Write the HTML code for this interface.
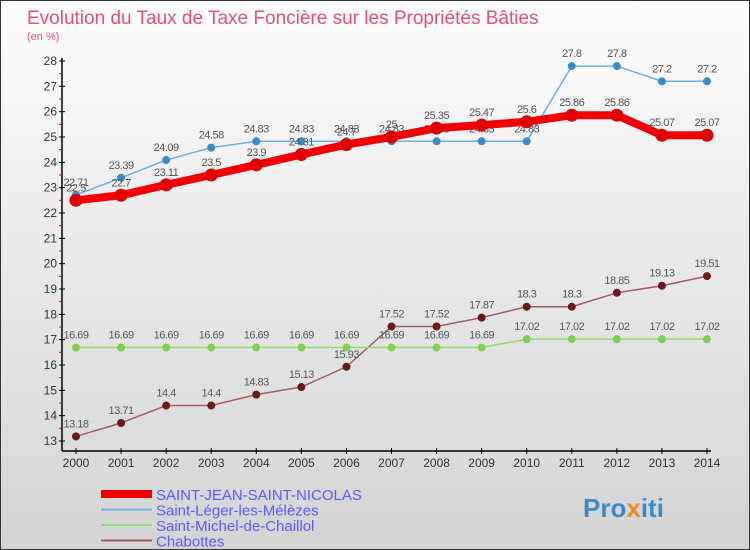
<!DOCTYPE html>
<html><head><meta charset="utf-8"><style>
body{margin:0}
#c{width:750px;height:550px;position:relative;box-sizing:border-box;border:1px solid #333;background:linear-gradient(#fdfdfd,#d4d4d4);font-family:"Liberation Sans",sans-serif;overflow:hidden}
</style></head><body>
<div id="c">
<svg id="s" width="750" height="550" style="position:absolute;left:0;top:0"></svg>
</div>
<script>
const years=[2000,2001,2002,2003,2004,2005,2006,2007,2008,2009,2010,2011,2012,2013,2014];
const yTicks=[13,14,15,16,17,18,19,20,21,22,23,24,25,26,27,28];
const sjsn=[22.5,22.7,23.11,23.5,23.9,24.31,24.7,25,25.35,25.47,25.6,25.86,25.86,25.07,25.07];
const leger=[22.71,23.39,24.09,24.58,24.83,24.83,24.83,24.83,24.83,24.83,24.83,27.8,27.8,27.2,27.2];
const michel=[16.69,16.69,16.69,16.69,16.69,16.69,16.69,16.69,16.69,16.69,17.02,17.02,17.02,17.02,17.02];
const chab=[13.18,13.71,14.4,14.4,14.83,15.13,15.93,17.52,17.52,17.87,18.3,18.3,18.85,19.13,19.51];
const names=["SAINT-JEAN-SAINT-NICOLAS","Saint-Léger-les-Mélèzes","Saint-Michel-de-Chaillol","Chabottes"];
const s=document.getElementById('s');const NS="http://www.w3.org/2000/svg";
function X(i){return 75+i*(706-75)/(years.length-1);}
function Y(v){return 440-(v-13)*(380/15);}
function el(t,a,txt){const e=document.createElementNS(NS,t);for(const k in a)e.setAttribute(k,a[k]);if(txt!==undefined)e.textContent=txt;s.appendChild(e);return e;}
let e;
e=el('text',{x:26,y:23,'font-size':19,fill:'#e8506e'},'Evolution du Taux de Taxe Foncière sur les Propriétés Bâties');

e=el('text',{x:26,y:39,'font-size':11,fill:'#e8506e'},'(en %)');

e=el('line',{x1:61,y1:57,x2:61,y2:450,stroke:'#000','stroke-width':1.5});

e=el('line',{x1:61,y1:450,x2:710,y2:450,stroke:'#000','stroke-width':1.5});

yTicks.forEach(v=>{el('line',{x1:58,y1:Y(v),x2:64,y2:Y(v),stroke:'#000'});
 if(v<28)el('line',{x1:58,y1:Y(v+0.5),x2:61,y2:Y(v+0.5),stroke:'#f00'});
 e=el('text',{x:56,y:Y(v)+4,'font-size':12,'text-anchor':'end',fill:'#333'},v);
 });
years.forEach((y,i)=>{el('line',{x1:X(i),y1:447,x2:X(i),y2:453,stroke:'#000'});
 e=el('text',{x:X(i),y:466,'font-size':12,'text-anchor':'middle',fill:'#333'},y);
 });
function series(d,col,w,r,dot,name){
 e=el('polyline',{points:d.map((v,i)=>X(i)+','+Y(v)).join(' '),fill:'none',stroke:col,'stroke-width':w});
 
 d.forEach((v,i)=>{e=el('circle',{cx:X(i),cy:Y(v),r:r,fill:dot});
  
  e=el('text',{x:X(i),y:Y(v)-9,'font-size':11,'text-anchor':'middle',fill:'#555','letter-spacing':'-0.5'},v);
  });
}
series(chab,'#a06060',1.5,4,'#6b1a1a','chabottes');
series(michel,'#90d870',1.5,4,'#80d050','michel');
series(leger,'#70aee0',1.5,4,'#3a8cc8','leger');
series(sjsn,'#f00000',8,6.5,'#e00000','sjsn');
const lc=['#f00000','#70aee0','#90d870','#a06060'],lw=[8,2,2,2];
names.forEach((n,i)=>{const y=493+i*15.5;
 e=el('line',{x1:100,y1:y,x2:151,y2:y,stroke:lc[i],'stroke-width':lw[i]});
 
 e=el('text',{x:155,y:y+6,'font-size':15,fill:'#5a5aff'},n);
 });
e=el('text',{x:582,y:516,'font-size':26,'font-weight':'bold',fill:'#3a8cc8'});

e.innerHTML='Pro<tspan fill="#f08a20">x</tspan>iti';
</script>
</body></html>
